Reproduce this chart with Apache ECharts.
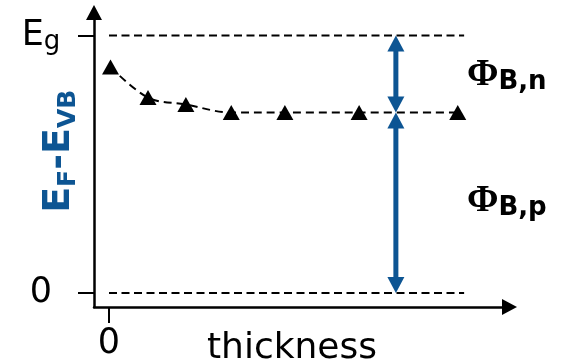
<!DOCTYPE html>
<html>
<head>
<meta charset="utf-8">
<script src="https://cdn.jsdelivr.net/npm/echarts@6/dist/echarts.min.js"></script>
<style>
  html, body { margin: 0; padding: 0; background: #fff; }
  #chart { width: 564px; height: 361px; }
</style>
</head>
<body>
<div id="chart"></div>
<script>
// Fermi level (relative to the valence band edge) versus layer thickness.
const thickness = [0.04, 1.04, 2.05, 3.26, 4.69, 6.67, 9.3];
const fermiLevel = [0.878, 0.759, 0.732, 0.701, 0.701, 0.701, 0.701];

// Energy axis: 0 and the band gap Eg (normalised to 1).
const yTickValues = [0, 1];
const xTickValues = [0];

// Dashed guide lines at the valence band (0) and the band gap (Eg).
const guideLevels = [1, 0];
const guideExtent = [0, 9.47];

// Barrier heights: Φ_B,n from Eg down to E_F, Φ_B,p from E_F down to 0.
const barrierX = 7.65;
const barrierFrom = [1, 0.701];
const barrierTo = [0.701, 0];
const barrierLabelY = [0.847, 0.356];
const barrierLabels = ['{phi|Φ}{sub|B,n}', '{phi|Φ}{sub|B,p}'];

const BLUE = '#0d5593';
const SANS = 'DejaVu Sans';

const chart = echarts.init(document.getElementById('chart'), null, { renderer: 'canvas' });

const guideSeries = guideLevels.map(level => ({
  type: 'line',
  data: guideExtent.map(x => [x, level]),
  symbol: 'none',
  silent: true,
  lineStyle: { color: '#000', width: 1.8, type: [8, 4.5] }
}));

const option = {
  animation: false,
  grid: { left: 94, right: 54.5, top: 12.5, bottom: 54, containLabel: false, outerBoundsMode: 'none' },
  xAxis: {
    type: 'value',
    min: -0.4,
    max: 10.68,
    name: 'thickness',
    nameLocation: 'middle',
    nameGap: 22,
    nameMoveOverlap: false,
    nameTextStyle: {
      fontFamily: SANS, fontSize: 36, lineHeight: 40, color: '#000',
      padding: [0, 19.5, 0, 0]
    },
    axisLine: {
      show: true, onZero: false,
      symbol: ['none', 'triangle'], symbolSize: [16, 15],
      lineStyle: { color: '#000', width: 2.5 }
    },
    axisTick: { show: true, customValues: xTickValues, length: 16, lineStyle: { color: '#000', width: 2 } },
    axisLabel: {
      show: true, customValues: xTickValues, margin: 17,
      fontFamily: SANS, fontSize: 35, lineHeight: 40, color: '#000'
    },
    splitLine: { show: false }
  },
  yAxis: {
    type: 'value',
    min: -0.0544,
    max: 1.0893,
    name: '{m|E}{s|F}{m|-}{m|E}{s|VB}',
    nameLocation: 'middle',
    nameRotate: 90,
    nameGap: 13,
    nameMoveOverlap: false,
    nameTextStyle: {
      padding: [0, 0, 0, 17],
      rich: {
        m: { fontFamily: SANS, fontWeight: 'bold', fontSize: 38, lineHeight: 44, color: BLUE },
        s: { fontFamily: SANS, fontWeight: 'bold', fontSize: 25, lineHeight: 17, verticalAlign: 'bottom', color: BLUE }
      }
    },
    axisLine: {
      show: true, onZero: false,
      symbol: ['none', 'triangle'], symbolSize: [16, 15],
      lineStyle: { color: '#000', width: 2.5 }
    },
    axisTick: { show: true, customValues: yTickValues, length: 16, lineStyle: { color: '#000', width: 2 } },
    axisLabel: {
      show: true, customValues: yTickValues, margin: 53, align: 'center',
      formatter: v => (v === 1 ? '{e|E}{g|g}' : '{z|0}'),
      rich: {
        z: { fontFamily: SANS, fontSize: 35, lineHeight: 40, color: '#000' },
        e: { fontFamily: SANS, fontSize: 35, lineHeight: 40, color: '#000' },
        g: { fontFamily: SANS, fontSize: 26, lineHeight: 22, verticalAlign: 'bottom', color: '#000' }
      }
    },
    splitLine: { show: false }
  },
  series: [
    ...guideSeries,
    {
      type: 'line',
      data: thickness.map((t, i) => [t, fermiLevel[i]]),
      smooth: 0.35,
      symbol: 'triangle',
      symbolSize: [17, 15],
      showSymbol: true,
      itemStyle: { color: '#000' },
      lineStyle: { color: '#000', width: 2, type: [8, 5] },
      z: 3
    },
    {
      type: 'custom',
      clip: false,
      data: barrierFrom.map((y0, i) => [barrierX, y0, barrierTo[i]]),
      renderItem: (params, api) => {
        const x = api.value(0);
        const pTop = api.coord([x, api.value(1)]);
        const pBot = api.coord([x, api.value(2)]);
        const pLab = api.coord([x, barrierLabelY[params.dataIndex]]);
        const headL = 16, headW = 8.5;
        return {
          type: 'group',
          children: [
            {
              type: 'line',
              shape: { x1: pTop[0], y1: pTop[1] + headL - 2, x2: pBot[0], y2: pBot[1] - headL + 2 },
              style: { stroke: BLUE, lineWidth: 5 }
            },
            {
              type: 'polygon',
              shape: { points: [[pTop[0], pTop[1]], [pTop[0] - headW, pTop[1] + headL], [pTop[0] + headW, pTop[1] + headL]] },
              style: { fill: BLUE }
            },
            {
              type: 'polygon',
              shape: { points: [[pBot[0], pBot[1]], [pBot[0] - headW, pBot[1] - headL], [pBot[0] + headW, pBot[1] - headL]] },
              style: { fill: BLUE }
            },
            {
              type: 'text',
              x: pTop[0] + 71,
              y: pLab[1],
              style: {
                text: barrierLabels[params.dataIndex],
                align: 'left',
                verticalAlign: 'middle',
                rich: {
                  phi: { fontFamily: 'Liberation Serif', fontWeight: 'bold', fontSize: 38, lineHeight: 40, fill: '#000' },
                  sub: { fontFamily: SANS, fontWeight: 'bold', fontSize: 26, lineHeight: 14, verticalAlign: 'bottom', fill: '#000' }
                }
              }
            }
          ]
        };
      }
    }
  ]
};

chart.setOption(option);
</script>
</body>
</html>
